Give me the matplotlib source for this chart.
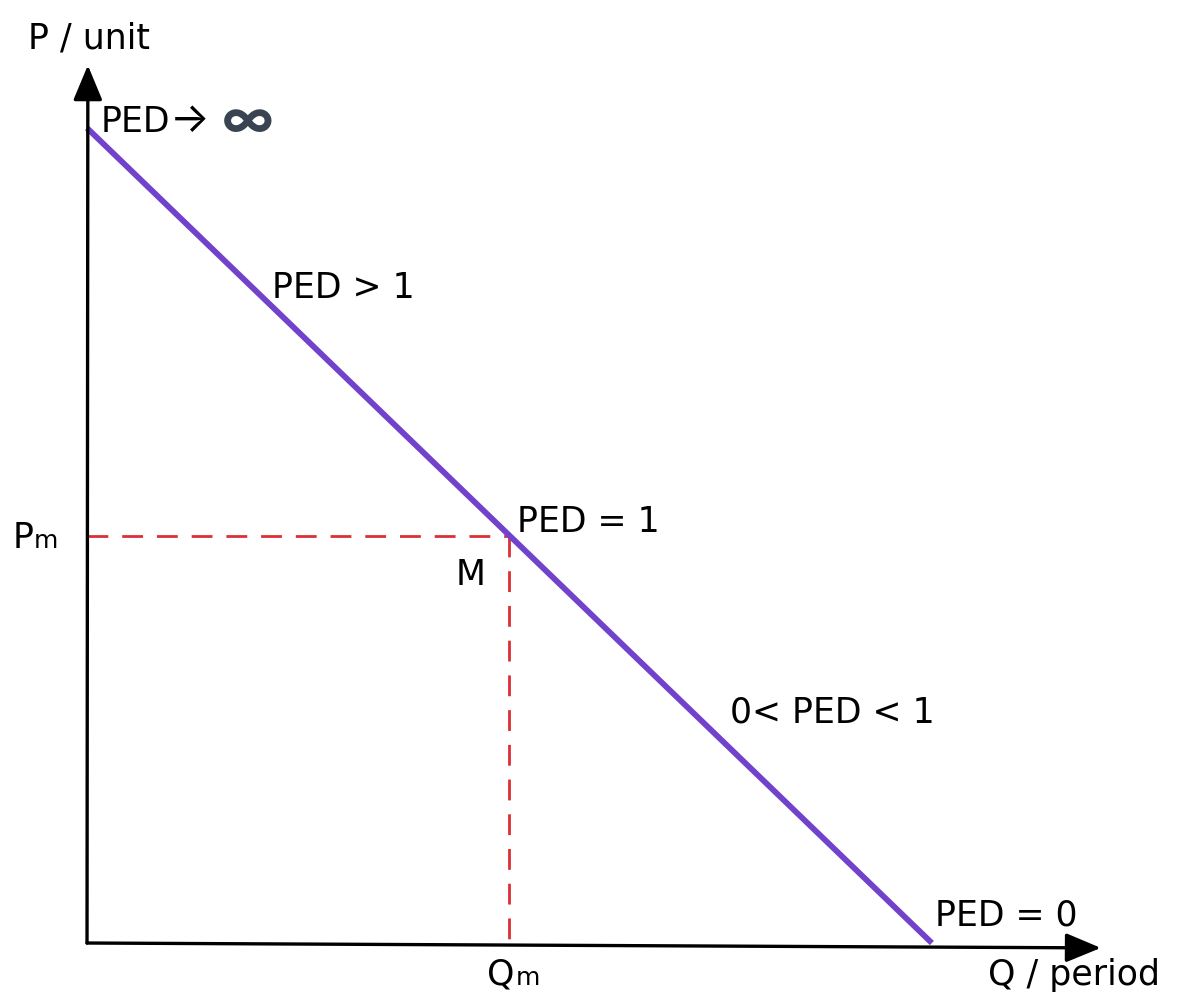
import matplotlib
matplotlib.use("Agg")
import matplotlib.pyplot as plt

plt.rcParams['font.family'] = ['DejaVu Sans']

# demand curve (Q, P) and the unit elastic point M
demand_q = [0, 10]
demand_p = [10, 0]
mid_q = 5
mid_p = 5
# axis ends (x axis drawn slightly tilted like the original sketch)
x_axis_q = [0, 12]
x_axis_p = [0, -0.06]
y_axis_q = [0, 0.01]
y_axis_p = [0, 10.77]

purple = '#7142cc'
red = '#dc3035'

fig = plt.figure(figsize=(11.87, 9.92), dpi=100)
ax = fig.add_axes([0, 0, 1, 1])
ax.set_xlim(-1.03, 13.02)
ax.set_ylim(-0.601, 11.571)
ax.axis('off')

# axes with arrows
arrow = dict(arrowstyle='-|>,head_length=1.2,head_width=0.5', mutation_scale=18,
             lw=2.4, color='black', shrinkA=0, shrinkB=0)
ax.annotate('', xy=(x_axis_q[1], x_axis_p[1]), xytext=(x_axis_q[0], x_axis_p[0]), arrowprops=arrow)
ax.annotate('', xy=(y_axis_q[1], y_axis_p[1]), xytext=(y_axis_q[0], y_axis_p[0]), arrowprops=arrow)

# dashed guides to M
ax.plot([0, mid_q], [mid_p, mid_p], color=red, lw=2, dashes=(7.5, 5))
ax.plot([mid_q, mid_q], [mid_p, 0], color=red, lw=2, dashes=(7.5, 5))

# demand line
ax.plot(demand_q, demand_p, color=purple, lw=4.2, solid_capstyle='butt')

fs = 25
ax.text(-0.70, 10.98, 'P / unit', fontsize=fs)
ax.text(10.66, -0.515, 'Q / period', fontsize=fs)
ax.text(0.166, 9.95, 'PED', fontsize=fs)
ax.text(0.98, 9.95, '\u2192', fontsize=30, family=['Inter', 'DejaVu Sans'])
ax.text(1.60, 9.89, '\u221e', fontsize=38, fontweight='bold', color='#3a4450',
        family=['Inter', 'DejaVu Sans'])
ax.text(2.19, 7.91, 'PED > 1', fontsize=fs)
ax.text(5.09, 5.04, 'PED = 1', fontsize=fs)
ax.text(4.36, 4.39, 'M', fontsize=fs)
ax.text(7.61, 2.70, '0< PED < 1', fontsize=fs)
ax.text(10.04, 0.22, 'PED = 0', fontsize=fs)

# P_m and Q_m labels
ax.text(-0.876, 4.85, 'P', fontsize=fs)
ax.text(-0.63, 4.85, 'm', fontsize=18)
ax.text(4.73, -0.515, 'Q', fontsize=fs)
ax.text(5.07, -0.515, 'm', fontsize=18)

fig.savefig('out.png', dpi=100)
